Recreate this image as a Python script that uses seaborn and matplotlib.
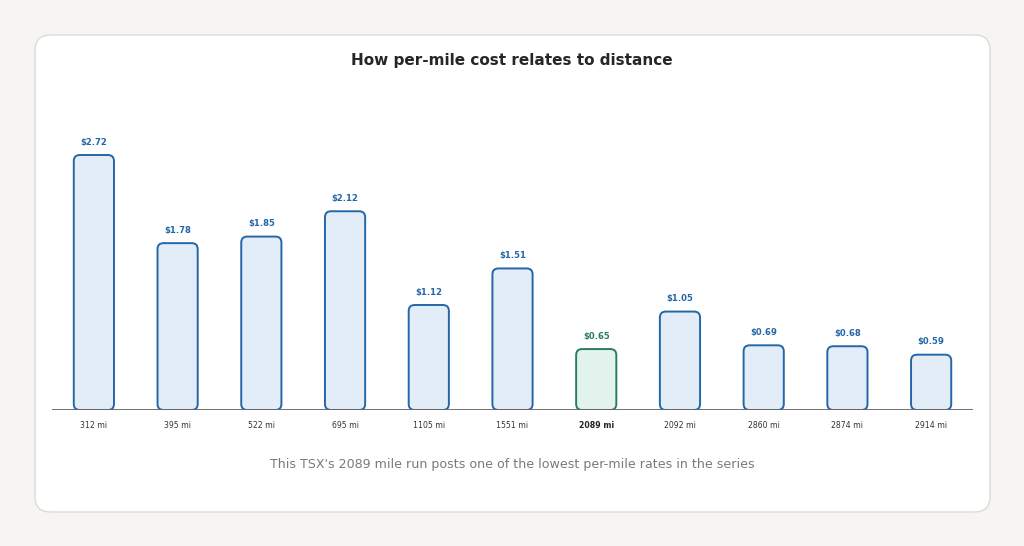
import numpy as np
import pandas as pd
import matplotlib
matplotlib.use("Agg")
import matplotlib.pyplot as plt
import seaborn as sns
from matplotlib.patches import FancyBboxPatch

# data
distances = ["312 mi", "395 mi", "522 mi", "695 mi", "1105 mi", "1551 mi",
             "2089 mi", "2092 mi", "2860 mi", "2874 mi", "2914 mi"]
cost_per_mile = [2.72, 1.78, 1.85, 2.12, 1.12, 1.51, 0.65, 1.05, 0.69, 0.68, 0.59]
highlight = "2089 mi"

title = "How per-mile cost relates to distance"
subtitle = "This TSX's 2089 mile run posts one of the lowest per-mile rates in the series"

blue_edge = "#2466a8"
blue_fill = "#e3edf7"
green_edge = "#2a7d5f"
green_fill = "#e1f3ec"

df = pd.DataFrame({"distance": distances, "cost": cost_per_mile})

sns.set_style("white")
plt.rcParams["font.family"] = ["DejaVu Sans"]

fig = plt.figure(figsize=(10.24, 5.46), dpi=100)
fig.patch.set_facecolor("#f6f5f2")

# white card behind the chart
card = FancyBboxPatch((0.0342, 0.0623), 0.9326, 0.8736,
                      boxstyle="round,pad=0,rounding_size=0.015",
                      mutation_aspect=1024 / 546,
                      transform=fig.transFigure, facecolor="white",
                      edgecolor="#dcdbd6", linewidth=1.0, zorder=-1)
fig.patches.append(card)

ax = fig.add_axes([0.0508, 0.2491, 0.8994, 0.5494])
ax.set_facecolor("none")

sns.barplot(data=df, x="distance", y="cost", ax=ax, width=0.48,
            color=blue_fill, saturation=1)

ymax = 3.2
ax.set_ylim(0, ymax)
ax.set_xlim(-0.5, len(distances) - 0.5)

# px per data unit, for round corners
bbox = ax.get_position()
px_x = bbox.width * 1024 / len(distances)
px_y = bbox.height * 546 / ymax
radius_px = 6
rs = radius_px / px_x
aspect = px_x / px_y

for patch, label, val in zip(list(ax.patches), distances, cost_per_mile):
    x0, w, h = patch.get_x(), patch.get_width(), patch.get_height()
    is_hl = label == highlight
    fc = green_fill if is_hl else blue_fill
    ec = green_edge if is_hl else blue_edge
    patch.set_visible(False)
    rb = FancyBboxPatch((x0, 0), w, h,
                        boxstyle=f"round,pad=0,rounding_size={rs}",
                        mutation_aspect=aspect,
                        facecolor=fc, edgecolor=ec, linewidth=1.4, zorder=3)
    ax.add_patch(rb)
    ax.annotate(f"${val:.2f}", (x0 + w / 2, h), xytext=(0, 6),
                textcoords="offset points", ha="center", va="bottom",
                fontsize=6.1, fontweight="bold", color=ec)

ax.axhline(0, color="#666666", linewidth=1.3, zorder=4)

for s in ["top", "right", "left", "bottom"]:
    ax.spines[s].set_visible(False)
ax.set_yticks([])
ax.set_xlabel("")
ax.set_ylabel("")
ax.tick_params(axis="x", length=0, pad=8, labelsize=5.6, labelcolor="#333333")
for t in ax.get_xticklabels():
    if t.get_text() == highlight:
        t.set_fontweight("bold")
        t.set_color("#222222")

fig.text(0.5, 0.890, title, ha="center", va="center", fontsize=11,
         fontweight="bold", color="#262626")
fig.text(0.5, 0.1484, subtitle, ha="center", va="center", fontsize=9.1,
         color="#7a7a7a")

fig.savefig("out.png", dpi=100, facecolor=fig.get_facecolor())
